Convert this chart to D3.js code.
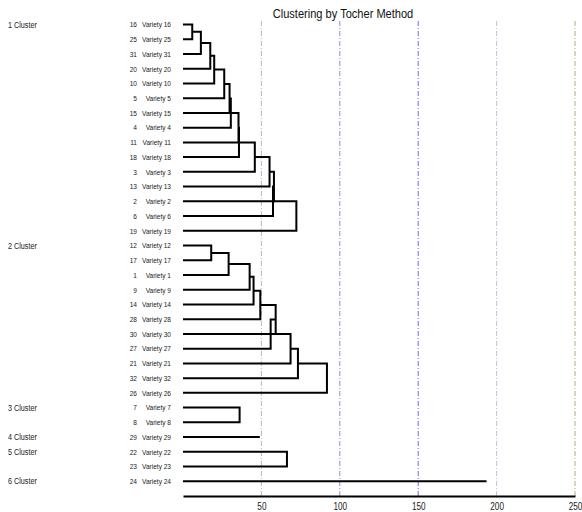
<!DOCTYPE html>
<html><head><meta charset="utf-8">
<script src="https://cdn.jsdelivr.net/npm/d3@7"></script>
<style>
body{margin:0;background:#fff;}
svg{display:block;font-family:'Liberation Sans',Arial,sans-serif;}
</style></head>
<body><svg id="chart" width="582" height="512"></svg>
<script>
const title = "Clustering by Tocher Method";
const clusterNames = ["1 Cluster","2 Cluster","3 Cluster","4 Cluster","5 Cluster","6 Cluster"];
const clusterMembers = [
  [16,25,31,20,10,5,15,4,11,18,3,13,2,6,19],
  [12,17,1,9,14,28,30,27,21,32,26],
  [7,8],
  [29],
  [22,23],
  [24]
];
// successive join heights within each cluster (single-member clusters: line length)
const joinHeights = [
  [5.9,11.4,17.4,19.9,26.3,29.7,30.5,35.4,35.7,45.8,55.2,58.0,57.4,72.3],
  [18.0,29.1,42.5,45.0,49.3,59.1,55.9,68.6,73.3,91.8],
  [36.1],
  [49.0],
  [66.3],
  [193.6]
];
const tickValues = [50,100,150,200,250];
const gridColors = ["#b4b4d2","#8c8ce4","#6a6af0","#c2c2da","#b8a878"];

const NARROW = 0.82;
const svg = d3.select("#chart");
const totalRows = d3.sum(clusterMembers, d => d.length);
const x = d3.scaleLinear().domain([0,250]).range([183,575]);
const y = d3.scaleLinear().domain([0,totalRows]).range([24.5,496]);

function narrowText(parent, tx, ty, str, size, anchor, dy) {
  return parent.append("text")
    .attr("transform", `translate(${tx},${ty}) scale(${NARROW},1)`)
    .attr("dy", dy || "0.35em")
    .attr("text-anchor", anchor || "start")
    .attr("font-size", size).text(str);
}

// grid
svg.append("g").selectAll("line").data(tickValues).join("line")
  .attr("x1", d => x(d)).attr("x2", d => x(d))
  .attr("y1", 21).attr("y2", y(totalRows))
  .attr("stroke", (d,i) => gridColors[i]).attr("stroke-width", 1)
  .attr("stroke-dasharray", "5,2,1,2");

// title
narrowText(svg, 343, 18, title, 13.5, "middle", "0").attr("fill","#111");

const lines = svg.append("g").attr("stroke","#000").attr("stroke-width",2).attr("fill","none");
const labels = svg.append("g").attr("fill","#222");

let row = 0;
clusterMembers.forEach((members, ci) => {
  narrowText(labels, 8, y(row), clusterNames[ci], 8.8, "start");
  members.forEach((m, j) => {
    const r = row + j;
    narrowText(labels, 137, y(r), String(m), 8, "end");
    narrowText(labels, 171, y(r), "Variety " + m, 8, "end");
  });
  const h = joinHeights[ci];
  if (members.length === 1) {
    lines.append("path").attr("d", `M${x(0)},${y(row)}H${x(h[0])}`);
  } else {
    let nodeX = x(0), nodeY = y(row);
    for (let j = 1; j < members.length; j++) {
      const ly = y(row + j);
      const hx = x(h[j-1]);
      lines.append("path").attr("d",
        `M${nodeX},${nodeY}H${hx}V${ly}H${x(0)}`);
      nodeX = hx;
      nodeY = (nodeY + ly) / 2;
    }
  }
  row += members.length;
});

// axis
const axis = d3.axisBottom(x).tickValues(tickValues).tickSize(0).tickSizeOuter(0).tickPadding(7);
const ag = svg.append("g").attr("transform", `translate(0,${y(totalRows)})`).call(axis);
ag.select(".domain").attr("stroke","#000").attr("stroke-width",2);
ag.selectAll(".tick text").each(function() {
  const t = d3.select(this);
  const yy = +t.attr("y");
  t.attr("y", null).attr("transform", `translate(0,${yy}) scale(${NARROW},1)`);
}).attr("font-size",10).attr("fill","#222")
  .attr("font-family","'Liberation Sans',Arial,sans-serif");
</script></body></html>
